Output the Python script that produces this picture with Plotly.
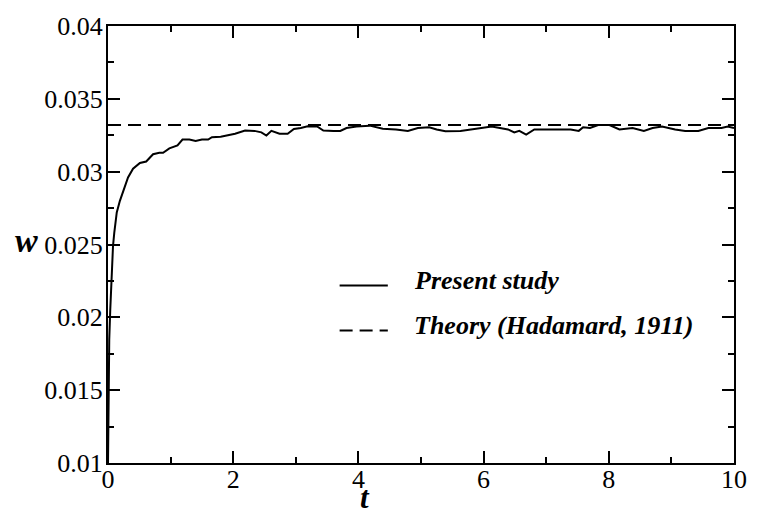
import plotly.graph_objects as go

# ---- data ----
t_sim = [0.0, 0.005, 0.01, 0.02, 0.036, 0.06, 0.08, 0.10, 0.14, 0.19, 0.25, 0.32, 0.40,
         0.51, 0.61, 0.72, 0.82, 0.88, 0.98, 1.11, 1.19, 1.30, 1.40, 1.50, 1.60, 1.66,
         1.80, 1.90, 2.03, 2.19, 2.34, 2.45, 2.53, 2.61, 2.74, 2.87, 2.97, 3.08, 3.19,
         3.34, 3.44, 3.60, 3.71, 3.81, 3.97, 4.18, 4.39, 4.60, 4.79, 4.95, 5.13, 5.25,
         5.39, 5.63, 5.80, 5.92, 6.13, 6.39, 6.49, 6.57, 6.68, 6.81, 7.00, 7.17, 7.39,
         7.52, 7.59, 7.70, 7.83, 8.01, 8.17, 8.38, 8.56, 8.70, 8.85, 9.06, 9.22, 9.43,
         9.59, 9.80, 9.90, 10.0]
w_sim = [0.0100, 0.0130, 0.0152, 0.0185, 0.0205, 0.0232, 0.0249, 0.0258, 0.0272, 0.0280,
         0.0287, 0.0296, 0.0302, 0.0306, 0.0307, 0.0312, 0.0313, 0.0313, 0.0316, 0.0318,
         0.0322, 0.0322, 0.0321, 0.0322, 0.0322, 0.03237, 0.0324, 0.0325, 0.0326, 0.03282,
         0.0328, 0.0327, 0.03248, 0.0328, 0.0326, 0.0326, 0.03293, 0.0330, 0.03311, 0.0331,
         0.03282, 0.0328, 0.0328, 0.0330, 0.0331, 0.03316, 0.03294, 0.0329, 0.0328, 0.0330,
         0.03305, 0.0329, 0.03277, 0.0328, 0.0329, 0.0330, 0.0331, 0.0329, 0.0327, 0.0328,
         0.03255, 0.0329, 0.0329, 0.0329, 0.0329, 0.0328, 0.03305, 0.0330, 0.0332, 0.0332,
         0.0329, 0.0330, 0.0328, 0.0330, 0.0331, 0.0329, 0.0328, 0.0328, 0.0330, 0.0330,
         0.0331, 0.0330]
t_theory = [0.0, 10.0]
w_theory = [0.0332, 0.0332]

x_tickvals = [0, 2, 4, 6, 8, 10]
x_ticktext = ["0", "2", "4", "6", "8", "10"]
y_tickvals = [0.01, 0.015, 0.02, 0.025, 0.03, 0.035, 0.04]
y_ticktext = ["0.01", "0.015", "0.02", "0.025", "0.03", "0.035", "0.04"]

legend_labels = ["Present study", "Theory (Hadamard, 1911)"]

SERIF = "Liberation Serif"

fig = go.Figure()
fig.add_trace(go.Scatter(x=t_sim, y=w_sim, mode="lines",
                         line=dict(color="black", width=2), name=legend_labels[0],
                         showlegend=False))
fig.add_trace(go.Scatter(x=t_theory, y=w_theory, mode="lines",
                         line=dict(color="black", width=2, dash="13px,7px"),
                         name=legend_labels[1], showlegend=False))

axis_common = dict(
    showline=True, linecolor="black", linewidth=2, mirror="allticks",
    ticks="inside", ticklen=12, tickwidth=1.5, tickcolor="black",
    showgrid=False, zeroline=False,
    tickfont=dict(family=SERIF, size=26, color="black"),
)

fig.update_xaxes(range=[0, 10], tickmode="array", tickvals=x_tickvals, ticktext=x_ticktext,
                 minor=dict(ticks="inside", ticklen=6, tickwidth=1.5, tickcolor="black",
                            dtick=1, showgrid=False),
                 ticklabelstandoff=-8, **axis_common)
fig.update_yaxes(range=[0.01, 0.04], tickmode="array", tickvals=y_tickvals, ticktext=y_ticktext,
                 minor=dict(ticks="inside", ticklen=6, tickwidth=1.5, tickcolor="black",
                            dtick=0.0025, tick0=0.01, showgrid=False),
                 ticklabelstandoff=-2, **axis_common)

# manual legend
shapes = [
    dict(type="line", xref="paper", yref="paper", x0=0.370, x1=0.447, y0=0.406, y1=0.406,
         line=dict(color="black", width=2)),
    dict(type="line", xref="paper", yref="paper", x0=0.370, x1=0.447, y0=0.303, y1=0.303,
         line=dict(color="black", width=2, dash="13px,7px")),
]
annotations = [
    dict(text="<b><i>" + legend_labels[0] + "</i></b>", xref="paper", yref="paper",
         x=0.486, y=0.418, xanchor="left", yanchor="middle", showarrow=False,
         font=dict(family=SERIF, size=26, color="black")),
    dict(text="<b><i>" + legend_labels[1] + "</i></b>", xref="paper", yref="paper",
         x=0.486, y=0.314, xanchor="left", yanchor="middle", showarrow=False,
         font=dict(family=SERIF, size=26, color="black")),
    dict(text="<b><i>w</i></b>", xref="paper", yref="paper", x=-0.130, y=0.510,
         xanchor="center", yanchor="middle", showarrow=False,
         font=dict(family=SERIF, size=34, color="black")),
    dict(text="<b><i>t</i></b>", xref="paper", yref="paper", x=0.410, y=-0.080,
         xanchor="center", yanchor="middle", showarrow=False,
         font=dict(family=SERIF, size=31, color="black")),
]

fig.update_layout(
    width=759, height=517,
    margin=dict(l=108, r=16, t=20, b=54, pad=0),
    plot_bgcolor="white", paper_bgcolor="white",
    font=dict(family=SERIF, color="black"),
    shapes=shapes, annotations=annotations,
    showlegend=False,
)

fig.write_html("out.html")
